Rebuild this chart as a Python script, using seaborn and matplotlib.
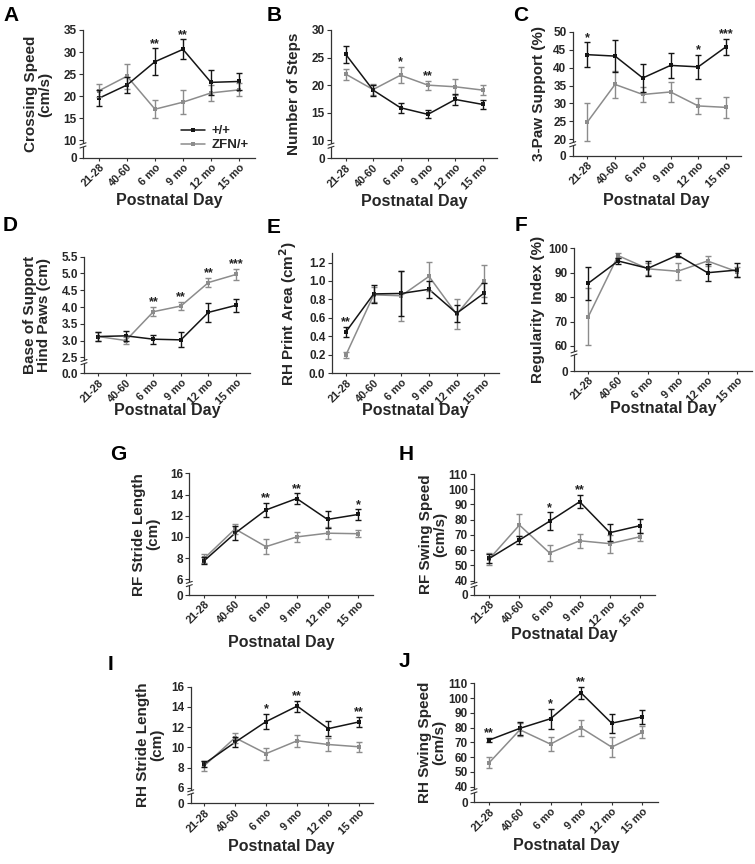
import numpy as np
import pandas as pd
import matplotlib
matplotlib.use("Agg")
import matplotlib.pyplot as plt
from matplotlib.lines import Line2D
from matplotlib.patches import Rectangle
import seaborn as sns

# ---------------- data ----------------
categories = ["21-28", "40-60", "6 mo", "9 mo", "12 mo", "15 mo"]
groups = ["+/+", "ZFN/+"]

a_wt = [19.5, 22.5, 27.8, 30.6, 23.1, 23.3]
a_wt_err = [1.8, 1.8, 3.0, 2.3, 2.9, 2.0]
a_zfn = [21.2, 24.5, 17.0, 18.6, 20.7, 21.4]
a_zfn_err = [1.5, 2.8, 2.1, 2.8, 1.8, 1.5]
a_yticks = [10, 15, 20, 25, 30, 35]
a_stars = [(2, "**"), (3, "**")]

b_wt = [25.6, 19.1, 15.9, 14.7, 17.4, 16.5]
b_wt_err = [1.5, 1.0, 0.9, 0.7, 1.0, 0.8]
b_zfn = [22.0, 19.2, 21.8, 20.0, 19.7, 19.1]
b_zfn_err = [1.0, 1.0, 1.5, 0.8, 1.4, 0.9]
b_yticks = [10, 15, 20, 25, 30]
b_stars = [(2, "*"), (3, "**")]

c_wt = [43.6, 43.2, 37.1, 40.6, 40.2, 45.8]
c_wt_err = [3.5, 4.5, 3.8, 3.4, 3.3, 2.2]
c_zfn = [24.8, 35.3, 32.5, 33.2, 29.3, 28.9]
c_zfn_err = [5.4, 3.8, 2.2, 2.9, 2.2, 3.0]
c_yticks = [20, 25, 30, 35, 40, 45, 50]
c_stars = [(0, "*"), (4, "*"), (5, "***")]

d_wt = [3.12, 3.14, 3.04, 3.02, 3.84, 4.05]
d_wt_err = [0.12, 0.15, 0.14, 0.22, 0.28, 0.19]
d_zfn = [3.12, 3.00, 3.86, 4.03, 4.73, 4.97]
d_zfn_err = [0.12, 0.10, 0.14, 0.13, 0.14, 0.17]
d_yticks = [2.5, 3.0, 3.5, 4.0, 4.5, 5.0, 5.5]
d_stars = [(2, "**"), (3, "**"), (4, "**"), (5, "***")]

e_wt = [0.45, 0.86, 0.865, 0.91, 0.65, 0.87]
e_wt_err = [0.055, 0.10, 0.24, 0.09, 0.09, 0.11]
e_zfn = [0.20, 0.85, 0.84, 1.05, 0.64, 1.00]
e_zfn_err = [0.03, 0.08, 0.27, 0.16, 0.16, 0.17]
e_yticks = [0.0, 0.2, 0.4, 0.6, 0.8, 1.0, 1.2]
e_stars = [(0, "**")]

f_wt = [85.7, 94.8, 91.8, 97.2, 90.0, 91.1]
f_wt_err = [6.8, 1.3, 3.0, 0.8, 3.5, 2.8]
f_zfn = [72.0, 97.0, 91.6, 90.6, 94.8, 90.4]
f_zfn_err = [11.6, 0.9, 2.5, 3.5, 2.0, 2.0]
f_yticks = [60, 70, 80, 90, 100]
f_stars = []

g_wt = [7.76, 10.35, 12.54, 13.62, 11.65, 12.12]
g_wt_err = [0.35, 0.65, 0.70, 0.50, 0.80, 0.50]
g_zfn = [7.98, 10.75, 9.08, 10.00, 10.35, 10.30]
g_zfn_err = [0.45, 0.45, 0.70, 0.50, 0.55, 0.35]
g_yticks = [6, 8, 10, 12, 14, 16]
g_stars = [(2, "**"), (3, "**"), (5, "*")]

h_wt = [54.6, 66.7, 79.0, 91.8, 71.5, 76.1]
h_wt_err = [3.0, 2.5, 6.0, 4.4, 5.5, 4.6]
h_zfn = [54.3, 76.5, 58.2, 66.2, 64.3, 68.8]
h_zfn_err = [4.0, 7.0, 5.5, 4.5, 6.0, 2.6]
h_yticks = [40, 50, 60, 70, 80, 90, 100, 110]
h_stars = [(2, "*"), (3, "**")]

i_wt = [8.35, 10.5, 12.55, 14.08, 11.85, 12.52]
i_wt_err = [0.25, 0.5, 0.75, 0.55, 0.75, 0.5]
i_zfn = [8.15, 10.95, 9.38, 10.65, 10.28, 10.05]
i_zfn_err = [0.45, 0.5, 0.6, 0.6, 0.6, 0.5]
i_yticks = [6, 8, 10, 12, 14, 16]
i_stars = [(2, "*"), (3, "**"), (5, "**")]

j_wt = [71.6, 79.5, 86.0, 103.5, 83.0, 87.3]
j_wt_err = [1.5, 4.5, 6.8, 4.0, 6.5, 4.8]
j_zfn = [56.3, 78.5, 68.8, 79.8, 66.8, 76.8]
j_zfn_err = [4.0, 4.5, 4.5, 5.5, 6.5, 4.0]
j_yticks = [40, 50, 60, 70, 80, 90, 100, 110]
j_stars = [(0, "**"), (2, "*"), (3, "**")]

# ---------------- style ----------------
sns.set_style("ticks")
plt.rcParams["font.family"] = ["Liberation Sans", "DejaVu Sans"]
plt.rcParams["font.weight"] = "bold"
plt.rcParams["axes.labelweight"] = "bold"

BLACK = "#151515"
GRAY = "#8c8c8c"
SPINE = "#333333"

W, H = 755, 864
fig = plt.figure(figsize=(W / 100, H / 100), dpi=100)

panels = [
    dict(letter="A", lx=3, ly=6, L=83, F=99, La=239, T=30, B=158, ymin=5.91, ytop=35,
         ylabel="Crossing Speed\n(cm/s)", ylx=38, xlo=43, fmt="%g", brk=True,
         wt=a_wt, wte=a_wt_err, zf=a_zfn, zfe=a_zfn_err, yt=a_yticks, st=a_stars),
    dict(letter="B", lx=267, ly=6, L=331, F=345.7, La=482.7, T=30, B=158.3, ymin=6.73, ytop=30,
         ylabel="Number of Steps", ylx=294, xlo=43, fmt="%g", brk=True,
         wt=b_wt, wte=b_wt_err, zf=b_zfn, zfe=b_zfn_err, yt=b_yticks, st=b_stars),
    dict(letter="C", lx=513, ly=6, L=572.7, F=587.3, La=726, T=31.7, B=155.7, ymin=15.43, ytop=50,
         ylabel="3-Paw Support (%)", ylx=539, xlo=45, fmt="%g", brk=True,
         wt=c_wt, wte=c_wt_err, zf=c_zfn, zfe=c_zfn_err, yt=c_yticks, st=c_stars),
    dict(letter="D", lx=3, ly=216, L=84, F=98.3, La=236, T=256.7, B=373.3, ymin=2.023, ytop=5.5,
         ylabel="Base of Support\nHind Paws (cm)", ylx=37.5, xlo=37, fmt="%.1f", brk=True,
         wt=d_wt, wte=d_wt_err, zf=d_zfn, zfe=d_zfn_err, yt=d_yticks, st=d_stars),
    dict(letter="E", lx=267, ly=218, L=331.7, F=346, La=484.3, T=253.3, B=373.3, ymin=0.0, ytop=1.3,
         ylabel="RH Print Area (cm$\\mathbf{^2}$)", ylx=288, xlo=37, fmt="%.1f", brk=False,
         wt=e_wt, wte=e_wt_err, zf=e_zfn, zfe=e_zfn_err, yt=e_yticks, st=e_stars),
    dict(letter="F", lx=515, ly=216, L=574, F=588.3, La=737.3, T=248.3, B=371, ymin=49.76, ytop=100,
         ylabel="Regularity Index (%)", ylx=538, xlo=38, fmt="%g", brk=True,
         wt=f_wt, wte=f_wt_err, zf=f_zfn, zfe=f_zfn_err, yt=f_yticks, st=f_stars),
    dict(letter="G", lx=110, ly=445, L=189.3, F=204.3, La=358.3, T=473.3, B=595, ymin=4.52, ytop=16,
         ylabel="RF Stride Length\n(cm)", ylx=146, xlo=47, fmt="%g", brk=True,
         wt=g_wt, wte=g_wt_err, zf=g_zfn, zfe=g_zfn_err, yt=g_yticks, st=g_stars),
    dict(letter="H", lx=399, ly=445, L=474, F=489.3, La=640, T=474, B=594.7, ymin=30.8, ytop=110,
         ylabel="RF Swing Speed\n(cm/s)", ylx=433, xlo=40, fmt="%g", brk=True,
         wt=h_wt, wte=h_wt_err, zf=h_zfn, zfe=h_zfn_err, yt=h_yticks, st=h_stars),
    dict(letter="I", lx=108, ly=655, L=190.7, F=204, La=359.3, T=686.7, B=803.3, ymin=4.46, ytop=16,
         ylabel="RH Stride Length\n(cm)", ylx=150, xlo=43, fmt="%g", brk=True,
         wt=i_wt, wte=i_wt_err, zf=i_zfn, zfe=i_zfn_err, yt=i_yticks, st=i_stars),
    dict(letter="J", lx=399, ly=652, L=474, F=489.3, La=642.3, T=683.3, B=802.3, ymin=29.4, ytop=110,
         ylabel="RH Swing Speed\n(cm/s)", ylx=432, xlo=43, fmt="%g", brk=True,
         wt=j_wt, wte=j_wt_err, zf=j_zfn, zfe=j_zfn_err, yt=j_yticks, st=j_stars),
]

for p in panels:
    s = (p["La"] - p["F"]) / 5.0
    pad = (p["F"] - p["L"]) / s
    wpx = p["La"] - p["F"] + 2 * (p["F"] - p["L"])
    hpx = p["B"] - p["T"]
    ax = fig.add_axes([p["L"] / W, 1 - p["B"] / H, wpx / W, hpx / H])

    pos = list(range(len(categories)))
    df = pd.DataFrame({
        "pos": pos * 2,
        "val": list(p["zf"]) + list(p["wt"]),
        "group": ["ZFN/+"] * 6 + ["+/+"] * 6,
    })
    sns.lineplot(data=df, x="pos", y="val", hue="group", hue_order=["ZFN/+", "+/+"],
                 palette={"ZFN/+": GRAY, "+/+": BLACK}, marker="s", markersize=3.2,
                 markeredgewidth=0, linewidth=1.1, errorbar=None, legend=False, ax=ax)
    for vals, errs, col in [(p["zf"], p["zfe"], GRAY), (p["wt"], p["wte"], BLACK)]:
        ax.errorbar(pos, vals, yerr=errs, fmt="none", ecolor=col, elinewidth=1.0,
                    capsize=2.5, capthick=1.0)

    for idx, txt in p["st"]:
        top = max(p["wt"][idx] + p["wte"][idx], p["zf"][idx] + p["zfe"][idx])
        ax.annotate(txt, xy=(idx, top), xytext=(0, 1.0), textcoords="offset points",
                    ha="center", va="baseline", fontsize=9, fontweight="bold",
                    color="#222222", annotation_clip=False)

    ax.set_xlim(-pad, 5 + pad)
    ax.set_ylim(p["ymin"], p["ytop"])
    ax.set_xticks(pos)
    ax.set_xticklabels(categories, rotation=45, ha="right", rotation_mode="anchor")
    if p["brk"]:
        ticks = [p["ymin"]] + list(p["yt"])
        labels = ["0.0" if p["fmt"] == "%.1f" else "0"] + [p["fmt"] % v for v in p["yt"]]
    else:
        ticks = list(p["yt"])
        labels = [p["fmt"] % v for v in p["yt"]]
    ax.set_yticks(ticks)
    ax.set_yticklabels(labels)
    ax.tick_params(axis="y", length=3, width=0.8, color=SPINE, pad=1.5, labelsize=8.5)
    ax.tick_params(axis="x", length=2.5, width=0.8, color=SPINE, pad=0.5, labelsize=7.8)
    for t in ax.get_xticklabels() + ax.get_yticklabels():
        t.set_fontweight("bold")

    for sp in ["top", "right"]:
        ax.spines[sp].set_visible(False)
    for sp in ["left", "bottom"]:
        ax.spines[sp].set_color(SPINE)
        ax.spines[sp].set_linewidth(0.9)

    ax.set_xlabel("Postnatal Day", fontsize=11.5, fontweight="bold")
    ax.xaxis.label.set_va("center")
    ax.xaxis.set_label_coords(0.5, -p["xlo"] / hpx)
    ax.set_ylabel(p["ylabel"], fontsize=11, fontweight="bold", linespacing=1.0)
    ax.yaxis.label.set_va("center")
    ax.yaxis.set_label_coords((p["ylx"] - p["L"]) / wpx, 0.5)

    if p["brk"]:
        first = p["yt"][0]
        yb = first - 0.3 * (first - p["ymin"])
        yf = (yb - p["ymin"]) / (p["ytop"] - p["ymin"])
        dx = 3.0 / wpx
        dy = 1.0 / hpx
        g = 1.6 / hpx
        ax.add_patch(Rectangle((-1.5 / wpx, yf - g), 3.0 / wpx, 2 * g, transform=ax.transAxes,
                               facecolor="white", edgecolor="none", clip_on=False, zorder=5))
        for off in (-g, g):
            ax.plot([-dx, dx], [yf + off - dy, yf + off + dy], transform=ax.transAxes,
                    color=SPINE, lw=0.8, clip_on=False, zorder=6)

    fig.text(p["lx"] / W, 1 - p["ly"] / H, p["letter"], fontsize=15, fontweight="bold",
             va="top", ha="left", color="black")

handles = [Line2D([], [], color=BLACK, marker="s", markersize=3.2, markeredgewidth=0, lw=1.1),
           Line2D([], [], color=GRAY, marker="s", markersize=3.2, markeredgewidth=0, lw=1.1)]
fig.legend(handles, groups, loc="upper left", bbox_to_anchor=(181 / W, 1 - 125 / H),
           frameon=False, prop={"weight": "bold", "size": 9.5}, handlelength=1.8,
           handletextpad=0.5, labelspacing=0.15, borderpad=0, borderaxespad=0)

fig.savefig("out.png", dpi=100, facecolor="white")
